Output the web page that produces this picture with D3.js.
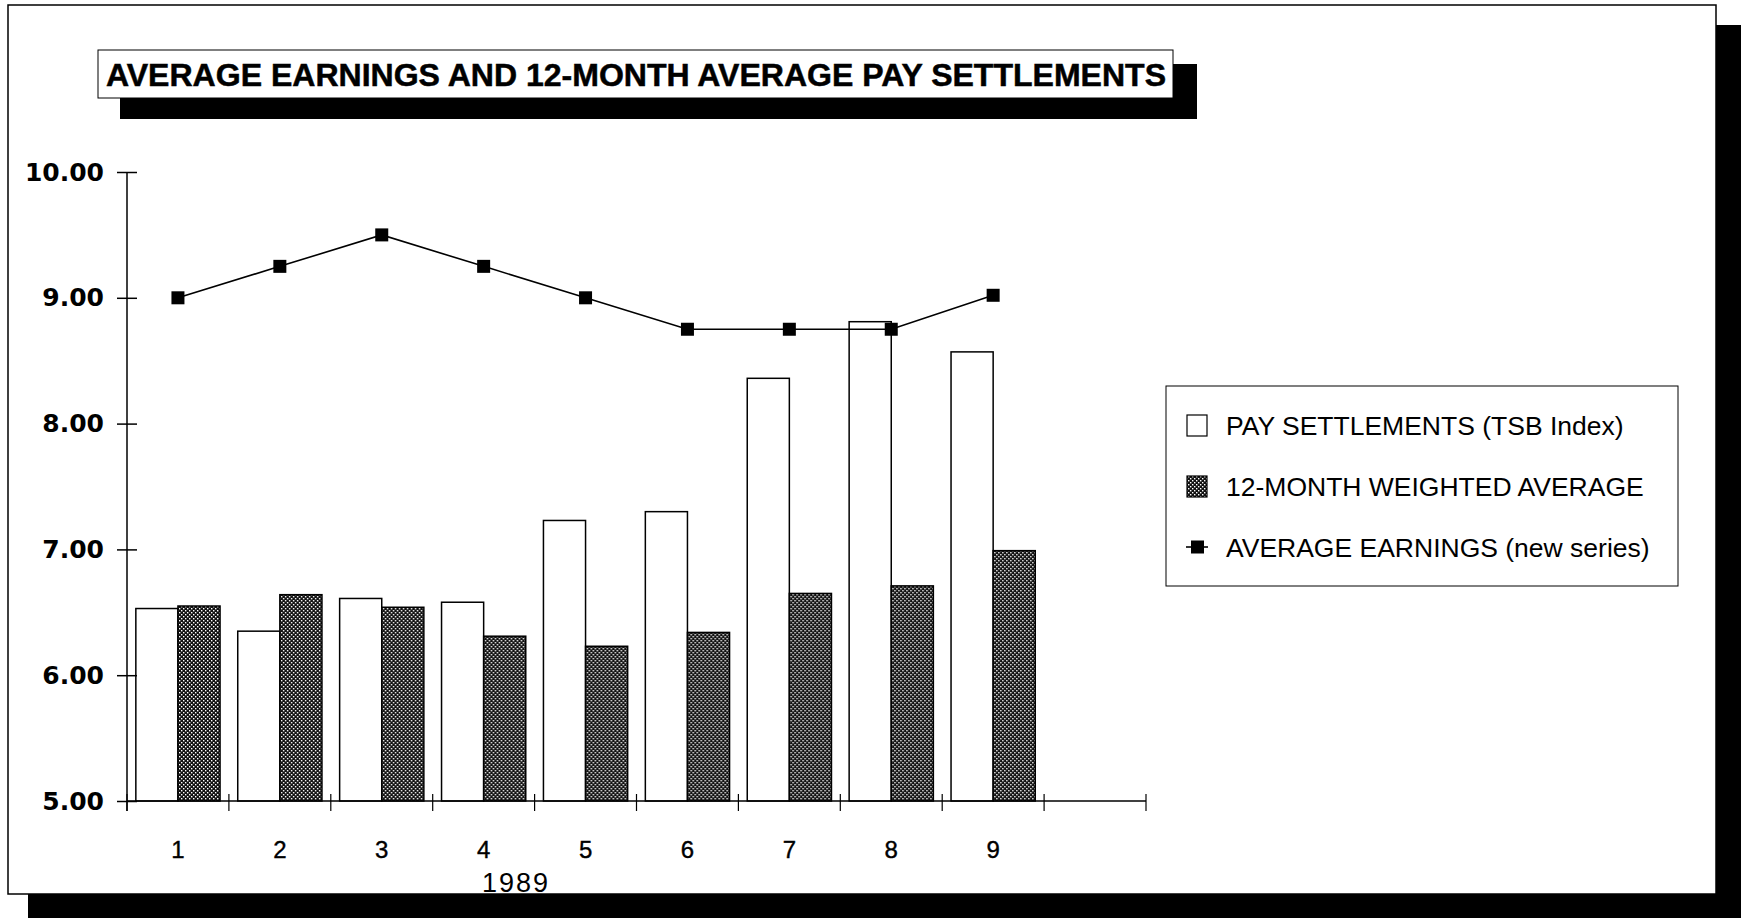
<!DOCTYPE html>
<html>
<head>
<meta charset="utf-8">
<script src="https://cdn.jsdelivr.net/npm/d3@7"></script>
<style>
  body { margin: 0; background: #fff; }
  svg { display: block; }
  .ytick text { font-family: 'DejaVu Sans', sans-serif; font-weight: bold; font-size: 25px; }
  .xtick text { font-family: 'Liberation Sans', Arial, sans-serif; font-size: 24px; stroke: #000; stroke-width: 0.4px; }
  .legend text { font-family: 'Liberation Sans', Arial, sans-serif; font-size: 26.5px; }
</style>
</head>
<body>
<svg class="chart" width="1743" height="918"></svg>
<script>
// months of 1989 shown on the axis (one empty slot at the end)
const months = ['1', '2', '3', '4', '5', '6', '7', '8', '9']
const axisSlots = [...months, '']

// series values
const paySettlements = [6.53, 6.35, 6.61, 6.58, 7.23, 7.30, 8.36, 8.81, 8.57]
const weightedAverage = [6.55, 6.64, 6.54, 6.31, 6.23, 6.34, 6.65, 6.71, 6.99]
const averageEarnings = [9.00, 9.25, 9.50, 9.25, 9.00, 8.75, 8.75, 8.75, 9.02]

const yTicks = [5, 6, 7, 8, 9, 10]
const seriesNames = ['PAY SETTLEMENTS (TSB Index)', '12-MONTH WEIGHTED AVERAGE', 'AVERAGE EARNINGS (new series)']
const titleText = 'AVERAGE EARNINGS AND 12-MONTH AVERAGE PAY SETTLEMENTS'
const yearLabel = '1989'

const svg = d3.select('.chart')

// hatch pattern for the weighted average bars
const defs = svg.append('defs')
const pat = defs.append('pattern')
  .attr('id', 'hatch')
  .attr('width', 4)
  .attr('height', 4)
  .attr('patternUnits', 'userSpaceOnUse')
pat.append('rect').attr('width', 4).attr('height', 4).attr('fill', '#111')
pat.append('rect').attr('x', 0).attr('y', 0).attr('width', 1.4).attr('height', 1.4).attr('fill', '#fff')
pat.append('rect').attr('x', 2).attr('y', 2).attr('width', 1.4).attr('height', 1.4).attr('fill', '#fff')

// page frame with drop shadow
svg.append('rect').attr('x', 28).attr('y', 25).attr('width', 1713).attr('height', 893).attr('fill', '#000')
svg.append('rect').attr('x', 8).attr('y', 5).attr('width', 1708).attr('height', 889)
  .attr('fill', '#fff').attr('stroke', '#000').attr('stroke-width', 1.5)

// title box with shadow
svg.append('rect').attr('x', 120).attr('y', 64).attr('width', 1077).attr('height', 55).attr('fill', '#000')
svg.append('rect').attr('x', 98).attr('y', 50).attr('width', 1075).attr('height', 48)
  .attr('fill', '#fff').attr('stroke', '#000').attr('stroke-width', 1)
svg.append('text')
  .attr('x', 636)
  .attr('y', 86)
  .attr('text-anchor', 'middle')
  .attr('font-family', "'Liberation Sans Narrow', 'Liberation Sans', Arial, sans-serif")
  .attr('font-weight', 'bold')
  .attr('font-size', 32)
  .attr('stroke', '#000')
  .attr('stroke-width', 0.5)
  .attr('textLength', 1060)
  .attr('lengthAdjust', 'spacingAndGlyphs')
  .text(titleText)

// scales
const x = d3.scaleBand()
  .domain(axisSlots)
  .range([127, 1146])

const xSub = d3.scaleBand()
  .domain(['pay', 'weighted'])
  .range([0, x.bandwidth()])
  .paddingOuter(0.21)

const y = d3.scaleLinear()
  .domain([5, 10])
  .range([801, 172])

const chart = svg.append('g')

// bars
const groups = chart.selectAll('.month')
  .data(months)
  .enter()
  .append('g')
  .attr('class', 'month')
  .attr('transform', m => `translate(${x(m)}, 0)`)

groups.append('rect')
  .attr('x', xSub('pay'))
  .attr('y', (m, i) => y(paySettlements[i]))
  .attr('width', xSub.bandwidth())
  .attr('height', (m, i) => y(5) - y(paySettlements[i]))
  .attr('fill', '#fff')
  .attr('stroke', '#000')
  .attr('stroke-width', 1.5)

groups.append('rect')
  .attr('x', xSub('weighted'))
  .attr('y', (m, i) => y(weightedAverage[i]))
  .attr('width', xSub.bandwidth())
  .attr('height', (m, i) => y(5) - y(weightedAverage[i]))
  .attr('fill', 'url(#hatch)')
  .attr('stroke', '#000')
  .attr('stroke-width', 1.5)

// y axis
const yAxis = chart.append('g')
  .attr('class', 'ytick')
  .attr('transform', `translate(${x.range()[0]}, 0)`)
  .call(d3.axisLeft(y).tickValues(yTicks).tickSize(10).tickPadding(13).tickFormat(d3.format('.2f')))
yAxis.select('.domain').remove()
yAxis.selectAll('line').attr('stroke', '#000').attr('stroke-width', 1.5)
yAxis.selectAll('text').attr('fill', '#000')

const yAxisRight = chart.append('g')
  .attr('transform', `translate(${x.range()[0]}, 0)`)
  .call(d3.axisRight(y).tickValues(yTicks).tickSize(10).tickFormat(''))
yAxisRight.select('.domain').remove()
yAxisRight.selectAll('line').attr('stroke', '#000').attr('stroke-width', 1.5)

chart.append('line')
  .attr('x1', x.range()[0]).attr('x2', x.range()[0])
  .attr('y1', y(10)).attr('y2', y(5) + 10)
  .attr('stroke', '#000').attr('stroke-width', 1.5)

// x axis
chart.append('line')
  .attr('x1', x.range()[0]).attr('x2', x.range()[1])
  .attr('y1', y(5)).attr('y2', y(5))
  .attr('stroke', '#000').attr('stroke-width', 1.5)

chart.selectAll('.edge')
  .data([...axisSlots.map(s => x(s)), x.range()[1]])
  .enter()
  .append('line')
  .attr('class', 'edge')
  .attr('x1', d => d).attr('x2', d => d)
  .attr('y1', y(5) - 7).attr('y2', y(5) + 10)
  .attr('stroke', '#000').attr('stroke-width', 1.2)

const xAxis = chart.append('g')
  .attr('class', 'xtick')
  .attr('transform', `translate(0, ${y(5)})`)
  .call(d3.axisBottom(x).tickSize(0).tickPadding(40))
xAxis.select('.domain').remove()
xAxis.selectAll('text').attr('fill', '#000')

chart.append('text')
  .attr('x', 516)
  .attr('y', 892)
  .attr('text-anchor', 'middle')
  .attr('font-family', "'Liberation Sans', Arial, sans-serif")
  .attr('font-size', 27)
  .attr('letter-spacing', 2)
  .text(yearLabel)

// average earnings line
const line = d3.line()
  .x((v, i) => x(months[i]) + x.bandwidth() / 2)
  .y(v => y(v))

chart.append('path')
  .datum(averageEarnings)
  .attr('d', line)
  .attr('fill', 'none')
  .attr('stroke', '#000')
  .attr('stroke-width', 1.6)

chart.selectAll('.marker')
  .data(averageEarnings)
  .enter()
  .append('rect')
  .attr('class', 'marker')
  .attr('x', (v, i) => x(months[i]) + x.bandwidth() / 2 - 6.5)
  .attr('y', v => y(v) - 6.5)
  .attr('width', 13)
  .attr('height', 13)
  .attr('fill', '#000')

// legend
const legend = svg.append('g').attr('class', 'legend')
legend.append('rect')
  .attr('x', 1166).attr('y', 386).attr('width', 512).attr('height', 200)
  .attr('fill', '#fff').attr('stroke', '#000').attr('stroke-width', 1)

const rowY = d3.scalePoint().domain(seriesNames).range([425, 547])

legend.append('rect')
  .attr('x', 1187).attr('y', rowY(seriesNames[0]) - 10).attr('width', 20).attr('height', 21)
  .attr('fill', '#fff').attr('stroke', '#000').attr('stroke-width', 1.2)
legend.append('rect')
  .attr('x', 1187).attr('y', rowY(seriesNames[1]) - 10).attr('width', 20).attr('height', 21)
  .attr('fill', 'url(#hatch)').attr('stroke', '#000').attr('stroke-width', 1.2)
legend.append('line')
  .attr('x1', 1186).attr('x2', 1208)
  .attr('y1', rowY(seriesNames[2])).attr('y2', rowY(seriesNames[2]))
  .attr('stroke', '#000').attr('stroke-width', 1.6)
legend.append('rect')
  .attr('x', 1191).attr('y', rowY(seriesNames[2]) - 6.5).attr('width', 13).attr('height', 13)
  .attr('fill', '#000')

legend.selectAll('.label')
  .data(seriesNames)
  .enter()
  .append('text')
  .attr('class', 'label')
  .attr('x', 1226)
  .attr('y', d => rowY(d) + 9.5)
  .text(d => d)
</script>
</body>
</html>
